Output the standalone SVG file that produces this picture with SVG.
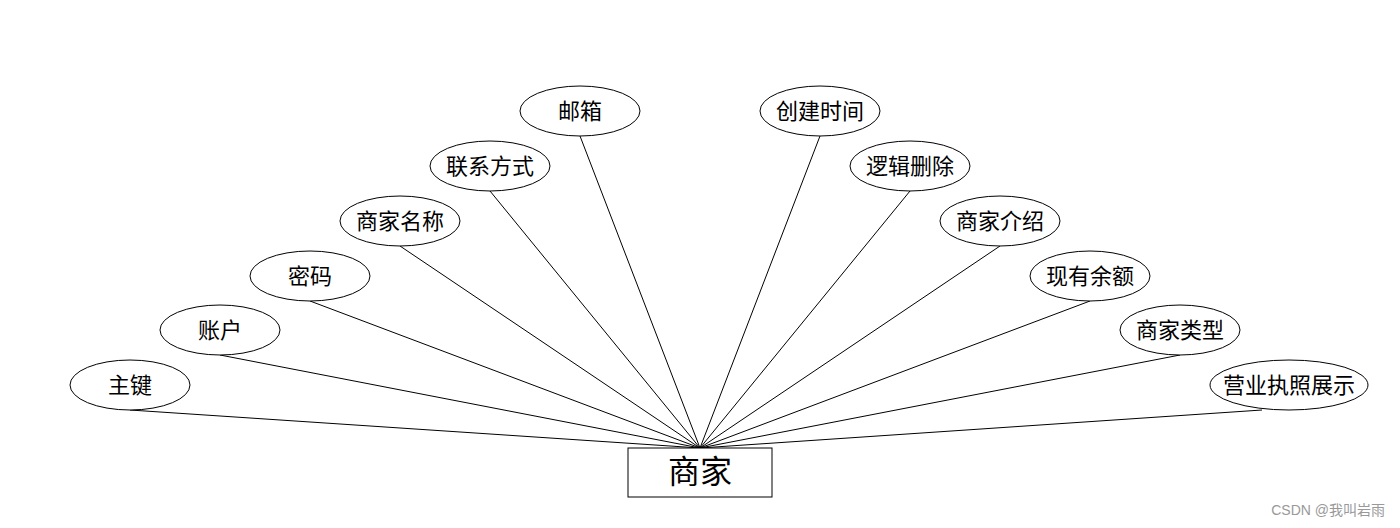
<svg xmlns="http://www.w3.org/2000/svg" width="1400" height="528" viewBox="0 0 1400 528">
<style>
.e{fill:#fff;stroke:#000;stroke-width:1}
.t{font-family:"Liberation Sans","Noto Sans CJK SC",sans-serif;font-size:22px;text-anchor:middle;dominant-baseline:central;fill:#000}
.c line{stroke:#000;stroke-width:1}
</style>
<rect width="1400" height="528" fill="#fff"/>
<g class="c" id="connectors">
<line x1="130" y1="410" x2="700" y2="448"/>
<line x1="220" y1="355" x2="700" y2="448"/>
<line x1="310" y1="301" x2="700" y2="448"/>
<line x1="400" y1="246" x2="700" y2="448"/>
<line x1="490" y1="191" x2="700" y2="448"/>
<line x1="580" y1="136" x2="700" y2="448"/>
<line x1="820" y1="136" x2="700" y2="448"/>
<line x1="910" y1="191" x2="700" y2="448"/>
<line x1="1000" y1="246" x2="700" y2="448"/>
<line x1="1090" y1="301" x2="700" y2="448"/>
<line x1="1180" y1="355" x2="700" y2="448"/>
<line x1="1262" y1="410" x2="700" y2="448"/>
</g>
<g id="n0"><ellipse class="e" cx="130" cy="385" rx="60" ry="25"/><text class="t" x="130" y="385">主键</text></g>
<g id="n1"><ellipse class="e" cx="220" cy="330" rx="60" ry="25"/><text class="t" x="220" y="330">账户</text></g>
<g id="n2"><ellipse class="e" cx="310" cy="276" rx="60" ry="25"/><text class="t" x="310" y="276">密码</text></g>
<g id="n3"><ellipse class="e" cx="400" cy="221" rx="60" ry="25"/><text class="t" x="400" y="221">商家名称</text></g>
<g id="n4"><ellipse class="e" cx="490" cy="166" rx="60" ry="25"/><text class="t" x="490" y="166">联系方式</text></g>
<g id="n5"><ellipse class="e" cx="580" cy="111" rx="60" ry="25"/><text class="t" x="580" y="111">邮箱</text></g>
<g id="n6"><ellipse class="e" cx="820" cy="111" rx="60" ry="25"/><text class="t" x="820" y="111">创建时间</text></g>
<g id="n7"><ellipse class="e" cx="910" cy="166" rx="60" ry="25"/><text class="t" x="910" y="166">逻辑删除</text></g>
<g id="n8"><ellipse class="e" cx="1000" cy="221" rx="60" ry="25"/><text class="t" x="1000" y="221">商家介绍</text></g>
<g id="n9"><ellipse class="e" cx="1090" cy="276" rx="60" ry="25"/><text class="t" x="1090" y="276">现有余额</text></g>
<g id="n10"><ellipse class="e" cx="1180" cy="330" rx="60" ry="25"/><text class="t" x="1180" y="330">商家类型</text></g>
<g id="n11"><ellipse class="e" cx="1289" cy="385" rx="79" ry="25"/><text class="t" x="1289" y="385">营业执照展示</text></g>
<g id="main"><rect x="628" y="448" width="144" height="49" fill="#fff" stroke="#000"/><text class="t" x="700" y="472" style="font-size:32px">商家</text></g>
<text x="1385" y="515" style="font-family:'Liberation Sans','Noto Sans CJK SC',sans-serif;font-size:14px;text-anchor:end;fill:#999">CSDN @我叫岩雨</text>
</svg>
